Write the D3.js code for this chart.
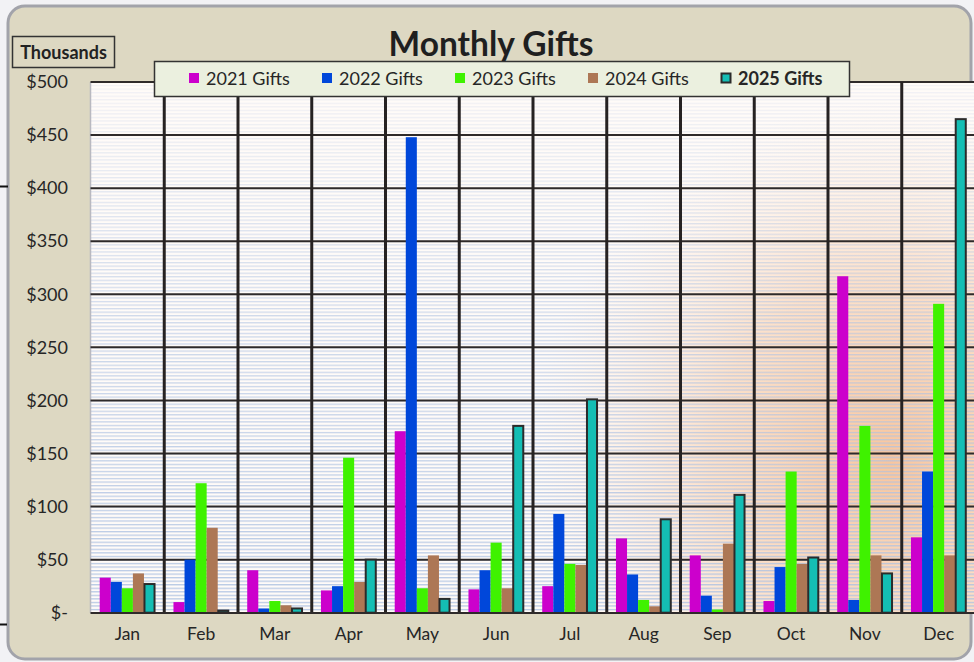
<!DOCTYPE html>
<html>
<head>
<meta charset="utf-8">
<script src="https://cdn.jsdelivr.net/npm/d3@7"></script>
<style>
  html, body { margin: 0; padding: 0; background: #f2f2f5; overflow: hidden; }
  svg { display: block; font-family: Lato, "Open Sans", sans-serif; }
</style>
</head>
<body>
<div id="chart"></div>
<script>
// data (thousands of dollars)
var months = ["Jan", "Feb", "Mar", "Apr", "May", "Jun", "Jul", "Aug", "Sep", "Oct", "Nov", "Dec"];
var seriesNames = ["2021 Gifts", "2022 Gifts", "2023 Gifts", "2024 Gifts", "2025 Gifts"];
var gifts2021 = [33, 10, 40, 21, 171, 22, 25, 70, 54, 11, 317, 71];
var gifts2022 = [29, 50, 4, 25, 448, 40, 93, 36, 16, 43, 12, 133];
var gifts2023 = [23, 122, 11, 146, 23, 66, 46, 12, 3, 133, 176, 291];
var gifts2024 = [37, 80, 7, 29, 54, 23, 45, 6, 65, 46, 54, 54];
var gifts2025 = [27, 2, 4, 50, 13, 176, 201, 88, 111, 52, 37, 465];
var yTicks = [0, 50, 100, 150, 200, 250, 300, 350, 400, 450, 500];

var allSeries = [gifts2021, gifts2022, gifts2023, gifts2024, gifts2025];
var colours = ["#cc00cc", "#0047da", "#3ff200", "#ad7755", "#14beb4"];

var width = 974, height = 662;
var margin = { top: 82, right: -2, bottom: 49, left: 90.5 };   // plot runs past the right edge

var svg = d3.select("#chart")
    .append("svg")
    .attr("width", width)
    .attr("height", height);

var defs = svg.append("defs");

// thin blue stripes in the plot background
var pat = defs.append("pattern")
    .attr("id", "stripes")
    .attr("patternUnits", "userSpaceOnUse")
    .attr("width", 8)
    .attr("height", 3.54);
pat.append("rect").attr("width", 8).attr("height", 1.3).attr("fill", "#aec2e2");

var fadeGrad = defs.append("linearGradient")
    .attr("id", "fade")
    .attr("x1", "0%").attr("y1", "0%")
    .attr("x2", "0%").attr("y2", "100%");
fadeGrad.append("stop").attr("offset", "0%").attr("stop-color", "white").attr("stop-opacity", 0.15);
fadeGrad.append("stop").attr("offset", "45%").attr("stop-color", "white").attr("stop-opacity", 0.6);
fadeGrad.append("stop").attr("offset", "100%").attr("stop-color", "white").attr("stop-opacity", 0.9);

var mask = defs.append("mask").attr("id", "stripemask");

var glow = defs.append("radialGradient")
    .attr("id", "glow")
    .attr("gradientUnits", "userSpaceOnUse")
    .attr("cx", 890).attr("cy", 460).attr("r", 360);
glow.append("stop").attr("offset", "0%").attr("stop-color", "#f8bf92").attr("stop-opacity", 0.9);
glow.append("stop").attr("offset", "50%").attr("stop-color", "#f9cba6").attr("stop-opacity", 0.55);
glow.append("stop").attr("offset", "100%").attr("stop-color", "#fde6d4").attr("stop-opacity", 0);

// outer chart frame
svg.append("rect")
    .attr("x", 8).attr("y", 6)
    .attr("width", 963).attr("height", 653)
    .attr("rx", 17).attr("ry", 17)
    .attr("fill", "#ddd8c2")
    .attr("stroke", "#a2a3aa")
    .attr("stroke-width", 3);

// the two little black marks on the left edge
svg.append("line").attr("x1", 0).attr("x2", 8).attr("y1", 186.5).attr("y2", 186.5)
    .attr("stroke", "#111").attr("stroke-width", 2);
svg.append("line").attr("x1", 0).attr("x2", 7).attr("y1", 624.5).attr("y2", 624.5)
    .attr("stroke", "#111").attr("stroke-width", 2);

var plotLeft = margin.left,
    plotTop = margin.top,
    plotBottom = height - margin.bottom;

var x0 = d3.scaleBand()
    .domain(months)
    .range([plotLeft, plotLeft + 12 * 73.75])
    .paddingInner(0.25)
    .paddingOuter(0.125);

var x1 = d3.scaleBand()
    .domain(d3.range(seriesNames.length))
    .range([0, x0.bandwidth()]);

var y = d3.scaleLinear()
    .domain([0, 500])
    .range([plotBottom - 0.3, plotTop]);

var plotW = 12 * 73.75;
var plotH = plotBottom - plotTop;

// plot background
svg.append("rect")
    .attr("x", plotLeft).attr("y", plotTop)
    .attr("width", plotW).attr("height", plotH)
    .attr("fill", "#fffbf8");
svg.append("rect")
    .attr("x", plotLeft).attr("y", plotTop)
    .attr("width", plotW).attr("height", plotH)
    .attr("fill", "url(#glow)");

mask.append("rect")
    .attr("x", plotLeft).attr("y", plotTop)
    .attr("width", plotW).attr("height", plotH)
    .attr("fill", "url(#fade)");

svg.append("rect")
    .attr("x", plotLeft).attr("y", plotTop)
    .attr("width", plotW).attr("height", plotH)
    .attr("fill", "url(#stripes)")
    .attr("mask", "url(#stripemask)");

// left edge of plot
svg.append("line")
    .attr("x1", plotLeft).attr("x2", plotLeft)
    .attr("y1", plotTop).attr("y2", plotBottom)
    .attr("stroke", "#b9b9c0").attr("stroke-width", 1.5);

// horizontal gridlines
svg.append("g")
    .selectAll("line")
    .data(yTicks.filter(function(d) { return d > 0; }))
    .join("line")
    .attr("x1", plotLeft).attr("x2", plotLeft + plotW)
    .attr("y1", function(d) { return y(d); })
    .attr("y2", function(d) { return y(d); })
    .attr("stroke", "#2e2a2a")
    .attr("stroke-width", 2);

// vertical category lines
svg.append("g")
    .selectAll("line")
    .data(d3.range(1, 12))
    .join("line")
    .attr("x1", function(i) { return plotLeft + i * x0.step(); })
    .attr("x2", function(i) { return plotLeft + i * x0.step(); })
    .attr("y1", plotTop).attr("y2", plotBottom)
    .attr("stroke", "#262222")
    .attr("stroke-width", 3);

// bars
var groups = svg.append("g")
    .selectAll("g")
    .data(months)
    .join("g")
    .attr("transform", function(m) { return "translate(" + x0(m) + ",0)"; });

groups.selectAll("rect")
    .data(function(m, i) {
        return allSeries.map(function(s, k) { return { k: k, v: s[i] }; });
    })
    .join("rect")
    .attr("x", function(d) { return x1(d.k) + (d.k === 4 ? 0.5 : 0); })
    .attr("width", function(d) { return x1.bandwidth() - (d.k === 4 ? 1 : 0); })
    .attr("y", function(d) { return y(d.v); })
    .attr("height", function(d) { return y(0) - y(d.v); })
    .attr("fill", function(d) { return colours[d.k]; })
    .attr("stroke", function(d) { return d.k === 4 ? "#2b2b2b" : "none"; })
    .attr("stroke-width", 2);

// bottom axis line
svg.append("line")
    .attr("x1", plotLeft).attr("x2", plotLeft + plotW)
    .attr("y1", plotBottom).attr("y2", plotBottom)
    .attr("stroke", "#2e2a2a").attr("stroke-width", 2);

// y axis labels
var yAxis = d3.axisLeft(y)
    .tickValues(yTicks)
    .tickSize(0)
    .tickPadding(0)
    .tickFormat(function(d) { return d === 0 ? "$-" : "$" + d; });

svg.append("g")
    .attr("transform", "translate(68,0)")
    .call(yAxis)
    .call(function(g) { g.select(".domain").remove(); })
    .selectAll("text")
    .style("font-size", "18px")
    .style("font-family", "Lato, 'Open Sans', sans-serif")
    .attr("fill", "#262626");

// x axis labels
var xAxis = d3.axisBottom(x0).tickSize(0).tickPadding(0);
svg.append("g")
    .attr("transform", "translate(0,628)")
    .call(xAxis)
    .call(function(g) { g.select(".domain").remove(); })
    .selectAll("text")
    .style("font-size", "17.5px")
    .style("font-family", "Lato, 'Open Sans', sans-serif")
    .attr("fill", "#262626");

// title
svg.append("text")
    .attr("x", 491).attr("y", 56)
    .attr("text-anchor", "middle")
    .attr("font-size", "33.5px")
    .attr("font-weight", "bold")
    .attr("fill", "#1f1f1f")
    .text("Monthly Gifts");

// units box
svg.append("rect")
    .attr("x", 12.5).attr("y", 36.5)
    .attr("width", 102).attr("height", 31)
    .attr("fill", "#ddd8c2")
    .attr("stroke", "#333").attr("stroke-width", 1.5);
svg.append("text")
    .attr("x", 63.5).attr("y", 58.5)
    .attr("text-anchor", "middle")
    .attr("font-size", "18px")
    .attr("font-weight", "bold")
    .attr("fill", "#222")
    .text("Thousands");

// legend
var legend = svg.append("g");
legend.append("rect")
    .attr("x", 154.5).attr("y", 61.5)
    .attr("width", 695).attr("height", 35)
    .attr("fill", "#ebf0df")
    .attr("stroke", "#333").attr("stroke-width", 1.5);

var items = legend.selectAll("g.item")
    .data(seriesNames)
    .join("g")
    .attr("class", "item")
    .attr("transform", function(d, i) { return "translate(" + (189 + i * 133) + ",0)"; });

items.append("rect")
    .attr("x", function(d, i) { return i === 4 ? 0.5 : 0; })
    .attr("y", function(d, i) { return i === 4 ? 73.5 : 73; })
    .attr("width", function(d, i) { return i === 4 ? 9 : 10; })
    .attr("height", function(d, i) { return i === 4 ? 9 : 10; })
    .attr("fill", function(d, i) { return colours[i]; })
    .attr("stroke", function(d, i) { return i === 4 ? "#2b2b2b" : "none"; })
    .attr("stroke-width", 2);

items.append("text")
    .attr("x", 17).attr("y", 84.5)
    .attr("font-size", "18px")
    .attr("font-weight", function(d, i) { return i === 4 ? "bold" : "normal"; })
    .attr("fill", "#262626")
    .text(function(d) { return d; });
</script>
</body>
</html>
